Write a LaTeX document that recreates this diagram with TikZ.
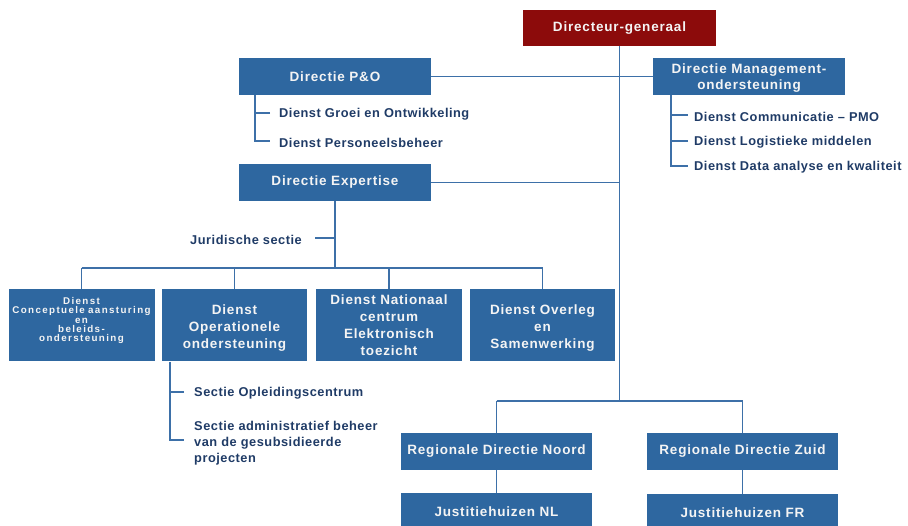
\documentclass[tikz,border=0pt]{standalone}
\usepackage{fontspec}
\setmainfont{Liberation Sans}
\newfontfamily\boxfont{Liberation Sans}[LetterSpace=6]
\newfontfamily\subfont{Liberation Sans}[LetterSpace=4]
\newfontfamily\tinyboxfont{Liberation Sans}[LetterSpace=14]
\newcommand\mytightlines{\lineskiplimit=-10pt\relax\lineskip=0pt\relax}
\definecolor{boxblue}{HTML}{2E67A0}
\definecolor{dgred}{HTML}{8C0B0B}
\definecolor{lineblue}{HTML}{3D70A8}
\definecolor{navytext}{HTML}{1F3B66}
\definecolor{boxtext}{HTML}{F4F4F4}
\begin{document}
\begin{tikzpicture}[x=1pt,y=-1pt,
  box/.style={fill=boxblue, text=boxtext, font=\boxfont\bfseries\fontsize{13.5}{16.5}\selectfont,
    align=center, inner sep=0pt, minimum height=37pt, minimum width=192pt},
  bbox/.style={fill=boxblue, inner sep=0pt, minimum width=145pt, minimum height=72pt},
  btext/.style={text=boxtext, font=\boxfont\bfseries\fontsize{13.5}{17}\selectfont, align=center, inner sep=0pt},
  sub/.style={text=navytext, font=\subfont\bfseries\fontsize{12.8}{16}\selectfont, anchor=west, inner sep=0pt, align=left, yshift=-1.5pt},
  conn/.style={draw=lineblue, line width=1.4pt}]
\useasboundingbox (0,0) rectangle (908,526);
\clip (0,0) rectangle (908,526);

% boxes
\node[box, fill=dgred, minimum width=193pt, minimum height=36pt] (dg) at (619.5,28) {Directeur-generaal};
\node[box] (po) at (335,76.5) {Directie P\&O};
\node[box, minimum width=192pt, minimum height=37pt,
  label={[btext, font=\boxfont\bfseries\fontsize{13.5}{16}\selectfont, yshift=-1.5pt]center:{Directie Management-\\ondersteuning}}] (mo) at (749,76.5) {};
\node[box] (ex) at (335,182.5) {Directie Expertise};
\node[bbox, minimum width=146pt,
  label={[btext, text width=146pt, font={\tinyboxfont\bfseries\fontsize{9.8}{9.3}\selectfont\mytightlines}, yshift=5pt]center:{Dienst\\Conceptuele aansturing\\en\\beleids-\\ondersteuning}}] (b1) at (81.5,325.5) {};
\node[bbox, label={[btext, yshift=-3pt]center:{Dienst\\Operationele\\ondersteuning}}] (b2) at (234.5,325.5) {};
\node[bbox, minimum width=146pt, label={[btext]center:{Dienst Nationaal\\centrum\\Elektronisch\\toezicht}}] (b3) at (389,325.5) {};
\node[bbox, label={[btext, yshift=-3pt]center:{Dienst Overleg\\en\\Samenwerking}}] (b4) at (542.5,325.5) {};
\node[box, minimum width=191pt] (rn) at (496.5,451.5) {Regionale Directie Noord};
\node[box, minimum width=191pt] (rz) at (742.5,451.5) {Regionale Directie Zuid};
\node[box, minimum width=191pt, minimum height=38pt] (jn) at (496.5,512) {Justitiehuizen NL};
\node[box, minimum width=191pt, minimum height=38pt] (jz) at (742.5,513) {Justitiehuizen FR};

% main trunk
\coordinate (mainbot) at (619.5,401);
\draw[conn] (dg.south) -- (mainbot);
\draw[conn] (po.east) -- (mo.west);
\draw[conn] (ex.east) -- (ex.east -| dg.south);

% expertise branch
\coordinate (exbar) at (335,268);
\draw[conn] (ex.south) -- (exbar);
\draw[conn] (b1.north |- exbar) -- (b4.north |- exbar);
\draw[conn] (b1.north |- exbar) -- (b1.north);
\draw[conn] (b2.north |- exbar) -- (b2.north);
\draw[conn] (b3.north |- exbar) -- (b3.north);
\draw[conn] (b4.north |- exbar) -- (b4.north);
\node[sub, anchor=east] (jur) at (302,238) {Juridische sectie};
\coordinate (jurtick) at (315,238);
\draw[conn] (jurtick) -- (jurtick -| ex.south);

% P&O sub items
\coordinate (potop) at (255,95);
\coordinate (pot1) at (270,113);
\coordinate (pot2) at (270,141);
\draw[conn] (potop) |- (pot2);
\draw[conn] (pot1) -- (pot1 -| potop);
\node[sub] (s1) at (279,113) {Dienst Groei en Ontwikkeling};
\node[sub] (s2) at (279,141) {Dienst Personeelsbeheer};

% Management sub items
\coordinate (motop) at (671,95);
\coordinate (mot1) at (688,115);
\coordinate (mot2) at (688,141);
\coordinate (mot3) at (688,166);
\draw[conn] (motop) |- (mot3);
\draw[conn] (mot1) -- (mot1 -| motop);
\draw[conn] (mot2) -- (mot2 -| motop);
\node[sub] (m1) at (694,115) {Dienst Communicatie – PMO};
\node[sub] (m2) at (694,141) {Dienst Logistieke middelen};
\node[sub] (m3) at (694,166) {Dienst Data analyse en kwaliteit};

% Operationele sub items
\coordinate (optop) at (170,362);
\coordinate (opt1) at (184,392);
\coordinate (opt2) at (184,440);
\draw[conn] (optop) |- (opt2);
\draw[conn] (opt1) -- (opt1 -| optop);
\node[sub] (o1) at (194,392) {Sectie Opleidingscentrum};
\node[sub] (o2) at (194,442) {Sectie administratief beheer\\van de gesubsidieerde\\projecten};

% regional
\draw[conn] (rn.north |- mainbot) -- (rz.north |- mainbot);
\draw[conn] (rn.north |- mainbot) -- (rn.north);
\draw[conn] (rz.north |- mainbot) -- (rz.north);
\draw[conn] (rn.south) -- (jn.north);
\draw[conn] (rz.south) -- (jz.north);
\end{tikzpicture}
\end{document}
